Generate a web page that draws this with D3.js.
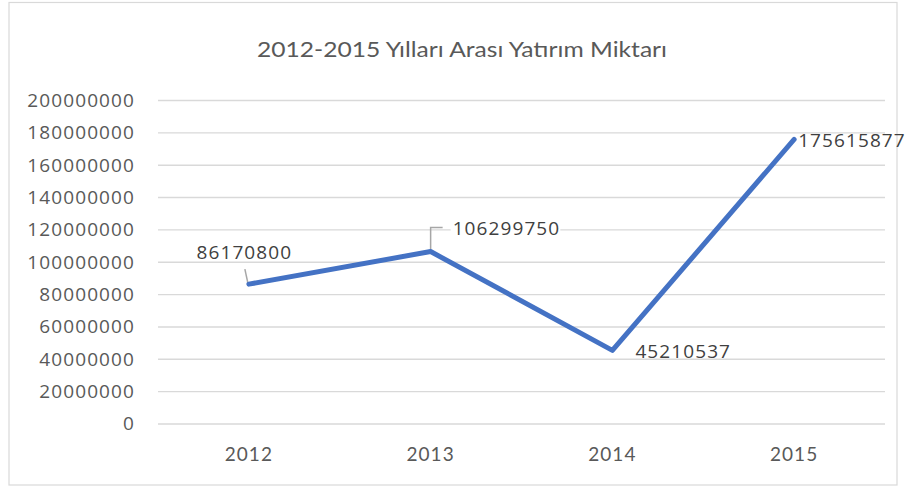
<!DOCTYPE html>
<html><head><meta charset="utf-8">
<script src="https://cdn.jsdelivr.net/npm/d3@7"></script>
<style>body{margin:0;background:#fff}svg{display:block}</style>
</head><body>
<svg id="c" width="907" height="488"></svg>
<script>
const title = "2012-2015 Yılları Arası Yatırım Miktarı";
const years = ["2012", "2013", "2014", "2015"];
const values = [86170800, 106299750, 45210537, 175615877];
const yTicks = [0, 20000000, 40000000, 60000000, 80000000, 100000000, 120000000, 140000000, 160000000, 180000000, 200000000];

const svg = d3.select("#c");
const W = 907, H = 488;
const m = {left: 158, right: 885, top: 100, bottom: 423.5};
const grey = "#595959";

svg.append("rect").attr("x", 9).attr("y", 2.5).attr("width", 888).attr("height", 482.5)
  .attr("fill", "#fff").attr("stroke", "#d9d9d9").attr("stroke-width", 1.2);

svg.append("text").attr("x", 462).attr("y", 56.5).attr("text-anchor", "middle")
  .attr("font-family", "Lato").attr("font-size", 21.5).attr("fill", grey)
  .attr("textLength", 410).attr("lengthAdjust", "spacingAndGlyphs").text(title);

const x = d3.scaleBand().domain(years).range([m.left, m.right]);
const y = d3.scaleLinear().domain([0, 200000000]).range([m.bottom, m.top]);

// gridlines
const yAxis = d3.axisLeft(y).tickValues(yTicks).tickSize(-(m.right - m.left)).tickFormat(d3.format("d")).tickPadding(23);
const gy = svg.append("g").attr("transform", `translate(${m.left},0)`).call(yAxis);
gy.select(".domain").remove();
gy.selectAll(".tick line").attr("stroke", "#d9d9d9").attr("stroke-width", 1.4);
gy.selectAll(".tick text").attr("font-family", "Open Sans").attr("font-size", 19)
  .attr("letter-spacing", 1.1).attr("fill", grey).attr("dy", "0.34em");

const xAxis = d3.axisBottom(x).tickSize(0).tickPadding(24);
const gx = svg.append("g").attr("transform", `translate(0,${m.bottom})`).call(xAxis);
gx.select(".domain").remove();
gx.selectAll(".tick text").attr("font-family", "Lato").attr("font-size", 19)
  .attr("letter-spacing", 1).attr("fill", grey);

const px = d => x(d) + x.bandwidth() / 2;
const pts = years.map((yr, i) => [px(yr), y(values[i])]);

// leader lines
const leaders = svg.append("g").attr("stroke", "#a6a6a6").attr("stroke-width", 1.5).attr("fill", "none");
leaders.append("path").attr("d", `M${pts[0][0] - 4},${pts[0][1] - 15}L${pts[0][0] - 1},${pts[0][1] - 1}`);
leaders.append("path").attr("d", `M${pts[1][0]},${pts[1][1] - 1}V${pts[1][1] - 24}H${pts[1][0] + 12}`);

// line
svg.append("path").datum(pts)
  .attr("d", d3.line())
  .attr("fill", "none").attr("stroke", "#4472c4").attr("stroke-width", 5)
  .attr("stroke-linejoin", "round").attr("stroke-linecap", "round");

// data labels
const fmt = d3.format("d");
const labelPos = [
  {dx: -4.5, dy: -25, anchor: "middle", bg: false},
  {dx: 22, dy: -16.5, anchor: "start", bg: true},
  {dx: 23, dy: 8, anchor: "start", bg: false},
  {dx: 4, dy: 8, anchor: "start", bg: false}
];
const lg = svg.append("g");
values.forEach((v, i) => {
  const p = labelPos[i];
  const t = lg.append("text").attr("x", pts[i][0] + p.dx).attr("y", pts[i][1] + p.dy)
    .attr("text-anchor", p.anchor).attr("font-family", "Open Sans").attr("font-size", 19)
    .attr("letter-spacing", 1.1).attr("fill", "#404040").text(fmt(v));
  if (p.bg) {
    const b = t.node().getBBox();
    lg.insert("rect", "text").attr("x", b.x - 2).attr("y", b.y + 3).attr("width", b.width + 2).attr("height", b.height - 6).attr("fill", "#fff");
  }
});
</script>
</body></html>
